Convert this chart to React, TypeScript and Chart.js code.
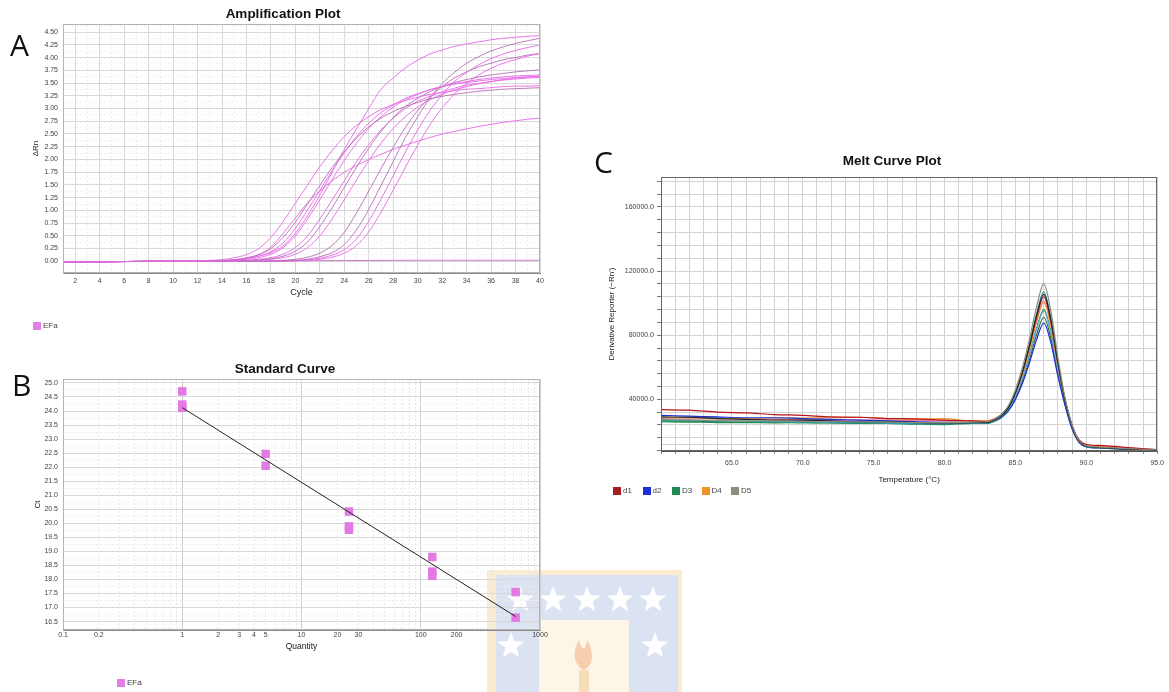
import React, { useEffect, useRef } from 'react';
import { Chart, registerables } from 'chart.js';

Chart.register(...registerables);

// ================= A: Amplification Plot =================
const baselineCycles = [1, 4, 8, 12];
const baselineDeltaRn = [-0.01, -0.01, 0.0, 0.0];
const ampCycles = [13, 14, 15, 16, 17, 18, 19, 20, 21, 22, 23, 24, 25, 26, 27, 28, 29, 30, 31, 32, 33, 34, 35, 36, 37, 38, 39, 40];
const ampE1 = [0.02, 0.03, 0.07, 0.13, 0.25, 0.47, 0.78, 1.14, 1.5, 1.86, 2.17, 2.45, 2.67, 2.84, 2.98, 3.08, 3.16, 3.22, 3.28, 3.31, 3.35, 3.38, 3.39, 3.41, 3.43, 3.44, 3.44, 3.45];
const ampE2 = [0.01, 0.02, 0.03, 0.07, 0.13, 0.25, 0.47, 0.77, 1.13, 1.49, 1.84, 2.15, 2.42, 2.64, 2.81, 2.94, 3.04, 3.12, 3.19, 3.24, 3.28, 3.31, 3.34, 3.36, 3.38, 3.39, 3.4, 3.41];
const ampE3 = [0.0, 0.01, 0.02, 0.05, 0.1, 0.19, 0.36, 0.65, 1.01, 1.39, 1.78, 2.13, 2.45, 2.71, 2.92, 3.07, 3.2, 3.29, 3.37, 3.43, 3.48, 3.51, 3.54, 3.57, 3.59, 3.61, 3.62, 3.63];
const ampE4 = [0.0, 0.01, 0.02, 0.04, 0.07, 0.14, 0.27, 0.5, 0.83, 1.21, 1.6, 1.98, 2.32, 2.61, 2.84, 3.03, 3.17, 3.28, 3.37, 3.43, 3.49, 3.53, 3.57, 3.6, 3.62, 3.64, 3.65, 3.66];
const ampM1 = [0.0, 0.0, 0.01, 0.01, 0.03, 0.05, 0.1, 0.2, 0.38, 0.68, 1.05, 1.45, 1.85, 2.22, 2.55, 2.82, 3.04, 3.2, 3.33, 3.43, 3.51, 3.57, 3.62, 3.66, 3.69, 3.72, 3.74, 3.76];
const ampM2 = [0.0, 0.0, 0.01, 0.02, 0.04, 0.07, 0.14, 0.27, 0.5, 0.83, 1.2, 1.58, 1.96, 2.29, 2.58, 2.81, 3.0, 3.14, 3.24, 3.33, 3.4, 3.46, 3.49, 3.53, 3.56, 3.58, 3.6, 3.61];
const ampM3 = [0.0, 0.0, 0.0, 0.01, 0.02, 0.04, 0.07, 0.14, 0.27, 0.5, 0.83, 1.21, 1.6, 1.98, 2.32, 2.61, 2.84, 3.03, 3.17, 3.28, 3.37, 3.43, 3.49, 3.53, 3.57, 3.6, 3.62, 3.64];
const ampL1 = [0, 0, 0, 0, 0, 0, 0.01, 0.02, 0.04, 0.09, 0.17, 0.33, 0.62, 1.02, 1.49, 1.96, 2.43, 2.84, 3.2, 3.49, 3.71, 3.89, 4.02, 4.13, 4.21, 4.28, 4.33, 4.38];
const ampL2 = [0, 0, 0, 0, 0, 0, 0.01, 0.01, 0.03, 0.06, 0.12, 0.23, 0.44, 0.79, 1.22, 1.68, 2.15, 2.58, 2.96, 3.27, 3.53, 3.71, 3.86, 3.98, 4.07, 4.14, 4.2, 4.25];
const ampL3 = [0, 0, 0, 0, 0, 0, 0, 0.01, 0.02, 0.04, 0.08, 0.16, 0.31, 0.58, 0.96, 1.4, 1.85, 2.28, 2.68, 3.01, 3.28, 3.49, 3.66, 3.79, 3.89, 3.96, 4.03, 4.08];
const ampL4 = [0, 0, 0, 0, 0, 0.01, 0.02, 0.04, 0.08, 0.16, 0.31, 0.57, 0.95, 1.38, 1.82, 2.24, 2.63, 2.96, 3.22, 3.43, 3.6, 3.72, 3.82, 3.89, 3.96, 4.0, 4.05, 4.08];
const ampK = [0.0, 0.01, 0.02, 0.05, 0.1, 0.17, 0.3, 0.55, 0.9, 1.3, 1.75, 2.2, 2.6, 3.0, 3.38, 3.6, 3.8, 3.95, 4.07, 4.15, 4.22, 4.27, 4.31, 4.35, 4.38, 4.4, 4.42, 4.43];
const ampW = [0.0, 0.01, 0.03, 0.06, 0.13, 0.28, 0.55, 0.85, 1.15, 1.38, 1.58, 1.75, 1.88, 2.0, 2.1, 2.2, 2.28, 2.36, 2.43, 2.5, 2.55, 2.6, 2.65, 2.69, 2.73, 2.76, 2.79, 2.81];
const ntcCycles = [1, 10, 20, 30, 40];
const ntcDeltaRn = [-0.01, 0.0, 0.01, 0.02, 0.02];
const ampYTickLabels = [0, 0.25, 0.5, 0.75, 1, 1.25, 1.5, 1.75, 2, 2.25, 2.5, 2.75, 3, 3.25, 3.5, 3.75, 4, 4.25, 4.5];
const ampXTickLabels = [2, 4, 6, 8, 10, 12, 14, 16, 18, 20, 22, 24, 26, 28, 30, 32, 34, 36, 38, 40];

// ================= B: Standard Curve =================
const stdQuantity = [1, 1, 1, 5, 5, 25, 25, 25, 125, 125, 125, 625, 625];
const stdCt = [24.7, 24.23, 24.11, 22.47, 22.05, 20.42, 19.89, 19.77, 18.8, 18.28, 18.13, 17.55, 16.64];
const fitQuantity = [1, 625];
const fitCt = [24.12, 16.68];
const stdXTickLabels = [0.1, 0.2, 1, 2, 3, 4, 5, 10, 20, 30, 100, 200, 1000];
const stdYTickLabels = [16.5, 17, 17.5, 18, 18.5, 19, 19.5, 20, 20.5, 21, 21.5, 22, 22.5, 23, 23.5, 24, 24.5, 25];

// ================= C: Melt Curve Plot =================
const meltTemps = [60, 62, 64, 66, 68, 70, 72, 74, 76, 78, 80, 82, 83, 83.5, 84, 84.5, 85, 85.5, 86, 86.5, 87, 87.5, 88, 88.5, 89, 89.5, 90, 91, 92.5, 95];
const meltD1 = [33500, 33200, 32000, 31500, 30500, 30000, 29000, 28800, 28000, 27800, 27000, 26500, 26000, 27400, 30100, 35100, 44100, 56800, 73200, 91300, 104000, 88600, 62300, 39600, 23500, 14500, 11800, 11200, 10200, 8600];
const meltD2 = [30000, 29500, 29000, 28500, 28500, 28000, 27500, 27000, 26500, 26000, 25500, 25500, 25500, 26600, 28700, 32700, 39900, 50000, 63000, 77400, 87500, 75200, 54300, 36300, 21500, 13000, 10300, 9600, 8900, 8000];
const meltD3 = [26000, 25800, 25500, 25500, 25300, 25500, 25200, 25000, 25000, 24500, 24200, 25000, 25000, 26200, 28700, 33300, 41500, 53100, 68000, 84500, 96000, 82000, 58000, 37400, 22500, 13500, 10800, 10000, 9300, 8300];
const meltD4 = [28500, 28500, 28000, 28000, 28500, 28200, 28500, 28800, 28000, 27500, 28000, 26500, 26500, 27800, 30400, 35100, 43700, 55700, 71200, 88400, 100500, 85800, 60900, 39400, 23800, 14200, 11200, 10500, 9600, 8400];
const meltD5 = [27500, 27200, 26800, 26500, 26500, 26200, 26000, 26000, 25800, 25500, 25500, 25800, 26000, 27500, 30500, 36000, 46000, 60000, 78000, 98000, 112000, 95000, 66000, 41000, 24000, 14000, 11000, 10200, 9400, 8300];
const meltWellBlack = [29000, 28800, 28000, 27500, 27000, 27000, 26500, 26000, 26000, 25500, 25200, 25500, 25500, 26900, 29700, 34800, 44100, 57100, 73900, 92500, 105500, 89700, 62700, 39500, 23200, 13600, 10700, 9900, 9100, 8100];
const meltWellTeal = [27000, 26800, 26500, 26200, 26000, 25800, 25500, 25500, 25000, 24800, 24800, 25000, 25000, 26400, 29300, 34500, 44100, 57400, 74600, 93600, 107000, 90800, 63100, 39300, 23000, 13400, 10500, 9700, 9000, 8100];
const meltWellSky = [28000, 29000, 28500, 27800, 27500, 27000, 27000, 26500, 26500, 26000, 26000, 26000, 26000, 27200, 29600, 34000, 42000, 53300, 67700, 83700, 95000, 81300, 58100, 38000, 22800, 13800, 10900, 10100, 9300, 8200];
const meltWellPink = [28500, 28300, 28000, 27800, 27500, 27500, 27200, 27000, 27000, 26800, 26500, 26500, 26500, 27800, 30400, 35200, 43900, 56100, 71800, 89300, 101500, 86700, 61400, 39600, 23600, 14300, 11400, 10800, 9800, 8500];
const meltWellForest = [26500, 26300, 26000, 25800, 25800, 25500, 25500, 25300, 25200, 25000, 25000, 25200, 25200, 26400, 28700, 32900, 40500, 51300, 65100, 80400, 91200, 78100, 55900, 36700, 22000, 13200, 10500, 9800, 9100, 8100];
const meltFaintTemps = [60, 71];
const meltFaintValues = [11800, 11800];
const meltLegendNames = ['d1', 'd2', 'D3', 'D4', 'D5'];
const meltLegendColors = ['#a81c24', '#1f2fd6', '#1e8a50', '#f0922a', '#8d8d7d'];
const meltXTickLabels = [65, 70, 75, 80, 85, 90, 95];
const meltYTickLabels = [40000, 80000, 120000, 160000];

const FONT = "'Liberation Sans', Arial, sans-serif";
const tickFont = { family: FONT, size: 7 };
const tickColor = '#444';
const near = (a: number, b: number) => Math.abs(a - b) < 1e-6 * Math.max(1, Math.abs(b));
const inList = (list: number[], v: any) => typeof v === 'number' && list.some((l) => near(v, l));

const framePlugin = (color: string) => ({
  id: 'frame' + color.replace('#', ''),
  afterDatasetsDraw(chart: any) {
    const { ctx, chartArea } = chart;
    const { left, top, right, bottom } = chartArea;
    ctx.save();
    ctx.strokeStyle = color;
    ctx.lineWidth = 1;
    ctx.strokeRect(Math.round(left) + 0.5, Math.round(top) + 0.5, Math.round(right - left) - 1, Math.round(bottom - top) - 1);
    ctx.restore();
  },
});

const toPoints = (xs: number[], ys: number[]) => xs.map((x, i) => ({ x, y: ys[i] }));

const baseOptions = {
  animation: false as const,
  responsive: false,
  maintainAspectRatio: false,
  events: [] as any[],
  plugins: { legend: { display: false }, tooltip: { enabled: false }, title: { display: false } },
};

export default function App() {
  const refA = useRef<HTMLCanvasElement>(null);
  const refB = useRef<HTMLCanvasElement>(null);
  const refC = useRef<HTMLCanvasElement>(null);

  useEffect(() => {
    const pink = 'rgba(232,104,232,0.9)';
    const mauve = 'rgba(182,112,182,0.9)';
    const curves = [ampE1, ampE2, ampE3, ampE4, ampM1, ampM2, ampM3, ampL1, ampL2, ampL3, ampL4, ampK, ampW];
    const ampDatasets: any[] = curves.map((vals, i) => ({
      data: toPoints(baselineCycles, baselineDeltaRn).concat(toPoints(ampCycles, vals)),
      borderColor: i % 3 === 1 ? mauve : pink,
      borderWidth: 1,
      pointRadius: 0,
      cubicInterpolationMode: 'monotone',
      fill: false,
    }));
    ampDatasets.push({
      data: toPoints(ntcCycles, ntcDeltaRn),
      borderColor: 'rgba(200,110,200,0.9)',
      borderWidth: 1,
      pointRadius: 0,
      fill: false,
    });

    const chartA = new Chart(refA.current as HTMLCanvasElement, {
      type: 'line',
      data: { datasets: ampDatasets },
      options: {
        ...baseOptions,
        layout: { padding: { left: 0, right: 30, top: 24, bottom: 0 } },
        scales: {
          x: {
            type: 'linear',
            min: 1,
            max: 40,
            afterBuildTicks: (s: any) => {
              const t: any[] = [];
              for (let c = 1; c <= 40; c++) t.push({ value: c });
              s.ticks = t;
            },
            afterFit: (s: any) => { s.height = 27; },
            ticks: {
              autoSkip: false, maxRotation: 0, minRotation: 0, padding: 4, font: tickFont, color: tickColor,
              callback: (v: any) => (inList(ampXTickLabels, v) ? String(v) : ''),
            },
            grid: {
              drawTicks: false,
              color: (c: any) => (c.tick && inList(ampXTickLabels, c.tick.value) ? '#d8d8d8' : '#ededed'),
            },
            border: { color: '#8a8a8a', dash: (c: any) => (c.tick && !inList(ampXTickLabels, c.tick.value) ? [2, 2] : []) },
            title: { display: true, text: 'Cycle', color: '#222', font: { family: FONT, size: 9 }, padding: { top: 0, bottom: 2 } },
          },
          y: {
            type: 'linear',
            min: -0.23,
            max: 4.66,
            afterBuildTicks: (s: any) => {
              const t: any[] = [];
              for (let i = 0; i <= 37; i++) t.push({ value: i * 0.125 });
              s.ticks = t;
            },
            afterFit: (s: any) => { s.width = 63; },
            ticks: {
              autoSkip: false, padding: 5, font: tickFont, color: tickColor,
              callback: (v: any) => (inList(ampYTickLabels, v) ? Number(v).toFixed(2) : ''),
            },
            grid: {
              drawTicks: false,
              color: (c: any) => (c.tick && inList(ampYTickLabels, c.tick.value) ? '#d8d8d8' : '#efefef'),
            },
            border: { color: '#b0b0b0', dash: (c: any) => (c.tick && !inList(ampYTickLabels, c.tick.value) ? [2, 2] : []) },
            title: { display: true, text: 'ΔRn', color: '#222', font: { family: FONT, size: 8 }, padding: { top: 31, bottom: 0 } },
          },
        },
      } as any,
      plugins: [framePlugin('#b4b4b4')],
    });

    // ---------- B ----------
    const logTicks: number[] = [];
    [0.1, 1, 10, 100].forEach((d) => {
      for (let m = 1; m <= 9; m++) logTicks.push(m * d);
    });
    logTicks.push(1000);
    const decades = [0.1, 1, 10, 100, 1000];

    const chartB = new Chart(refB.current as HTMLCanvasElement, {
      type: 'scatter',
      data: {
        datasets: [
          {
            type: 'line',
            data: toPoints(fitQuantity, fitCt),
            borderColor: '#222',
            borderWidth: 1,
            pointRadius: 0,
            fill: false,
          } as any,
          {
            data: toPoints(stdQuantity, stdCt),
            pointStyle: 'rect',
            pointRadius: 6,
            backgroundColor: '#e37ae3',
            borderWidth: 0,
            showLine: false,
          },
        ],
      },
      options: {
        ...baseOptions,
        layout: { padding: { left: 0, right: 30, top: 39, bottom: 0 } },
        scales: {
          x: {
            type: 'logarithmic',
            min: 0.1,
            max: 1000,
            afterBuildTicks: (s: any) => { s.ticks = logTicks.map((v) => ({ value: v })); },
            afterFit: (s: any) => { s.height = 30; },
            ticks: {
              autoSkip: false, maxRotation: 0, minRotation: 0, padding: 1, font: tickFont, color: tickColor,
              callback: (v: any) => {
                const l = stdXTickLabels.find((x) => near(v, x));
                return l === undefined ? '' : String(l);
              },
            },
            grid: {
              drawTicks: false,
              color: (c: any) => {
                if (!c.tick) return '#e8e8e8';
                if (inList(decades, c.tick.value)) return '#cfcfcf';
                return '#e6e6e6';
              },
            },
            border: { color: '#8a8a8a', dash: (c: any) => (c.tick && !inList(decades, c.tick.value) ? [2, 2] : []) },
            title: { display: true, text: 'Quantity', color: '#222', font: { family: FONT, size: 8.5 }, padding: { top: 0, bottom: 8 } },
          },
          y: {
            type: 'linear',
            min: 16.2,
            max: 25.14,
            afterBuildTicks: (s: any) => {
              const t: any[] = [];
              for (let i = 65; i <= 100; i++) t.push({ value: i * 0.25 });
              s.ticks = t;
            },
            afterFit: (s: any) => { s.width = 63; },
            ticks: {
              autoSkip: false, padding: 5, font: tickFont, color: tickColor,
              callback: (v: any) => (inList(stdYTickLabels, v) ? Number(v).toFixed(1) : ''),
            },
            grid: {
              drawTicks: false,
              color: (c: any) => (c.tick && inList(stdYTickLabels, c.tick.value) ? '#d8d8d8' : '#eeeeee'),
            },
            border: { color: '#b0b0b0', dash: (c: any) => (c.tick && !inList(stdYTickLabels, c.tick.value) ? [2, 2] : []) },
            title: { display: true, text: 'Ct', color: '#222', font: { family: FONT, size: 8 }, padding: { top: 33, bottom: 0 } },
          },
        },
      } as any,
      plugins: [framePlugin('#b4b4b4')],
    });

    // ---------- C ----------
    const meltSeries = [
      { vals: meltD5, color: '#8d8d7d' },
      { vals: meltWellBlack, color: '#222222' },
      { vals: meltWellTeal, color: '#2aa0b0' },
      { vals: meltD2, color: '#1f2fd6' },
      { vals: meltD1, color: '#b5121b' },
      { vals: meltD4, color: '#f0922a' },
      { vals: meltWellPink, color: '#e87ea0' },
      { vals: meltWellSky, color: '#6fa8dc' },
      { vals: meltD3, color: '#1e8a50' },
      { vals: meltWellForest, color: '#2e6b3a' },
    ];
    const meltDatasets: any[] = meltSeries.map((s) => ({
      data: toPoints(meltTemps, s.vals),
      borderColor: s.color,
      borderWidth: 1.2,
      pointRadius: 0,
      cubicInterpolationMode: 'monotone',
      fill: false,
    }));
    meltDatasets.push({
      data: toPoints(meltFaintTemps, meltFaintValues),
      borderColor: '#cfcfcf',
      borderWidth: 1,
      pointRadius: 0,
      fill: false,
    });

    const chartC = new Chart(refC.current as HTMLCanvasElement, {
      type: 'line',
      data: { datasets: meltDatasets },
      options: {
        ...baseOptions,
        layout: { padding: { left: 0, right: 8, top: 27, bottom: 0 } },
        scales: {
          x: {
            type: 'linear',
            min: 60,
            max: 95,
            afterBuildTicks: (s: any) => {
              const t: any[] = [];
              for (let v = 60; v <= 95; v++) t.push({ value: v });
              s.ticks = t;
            },
            afterFit: (s: any) => { s.height = 36; },
            ticks: {
              autoSkip: false, maxRotation: 0, minRotation: 0, padding: 5, font: tickFont, color: tickColor,
              callback: (v: any) => (inList(meltXTickLabels, v) ? Number(v).toFixed(1) : ''),
            },
            grid: { drawTicks: true, tickLength: 3, tickColor: '#888', color: '#d2d2d2' },
            border: { color: '#555' },
            title: { display: true, text: 'Temperature (°C)', color: '#222', font: { family: FONT, size: 8 }, padding: { top: 0, bottom: 2 } },
          },
          y: {
            type: 'linear',
            min: 7740,
            max: 178720,
            afterBuildTicks: (s: any) => {
              const t: any[] = [];
              for (let i = 1; i <= 22; i++) t.push({ value: i * 8000 });
              s.ticks = t;
            },
            afterFit: (s: any) => { s.width = 76; },
            ticks: {
              autoSkip: false, padding: 3, font: tickFont, color: tickColor,
              callback: (v: any) => (inList(meltYTickLabels, v) ? Number(v).toFixed(1) : ''),
            },
            grid: { drawTicks: true, tickLength: 4, tickColor: '#777', color: '#d2d2d2' },
            border: { color: '#555' },
            title: { display: true, text: "Derivative Reporter (−Rn')", color: '#222', font: { family: FONT, size: 8 }, padding: { top: 22, bottom: 0 } },
          },
        },
      } as any,
      plugins: [framePlugin('#666666')],
    });

    return () => {
      chartA.destroy();
      chartB.destroy();
      chartC.destroy();
    };
  }, []);

  const abs = (l: number, t: number, extra: any = {}) => ({ position: 'absolute' as const, left: l, top: t, ...extra });
  const letter = { fontFamily: "'Open Sans', sans-serif", fontSize: 30, lineHeight: '30px', color: '#111', fontWeight: 400 };
  const title = { fontFamily: FONT, fontSize: 13.5, fontWeight: 700 as const, lineHeight: '16px', color: '#111', width: 300, textAlign: 'center' as const };
  const legendText = { fontFamily: FONT, fontSize: 8, lineHeight: '12px', color: '#444' };
  const sq = (color: string) => ({ width: 8, height: 8, background: color });

  const starPath = (cx: number, cy: number, r: number) => {
    const pts: string[] = [];
    for (let i = 0; i < 10; i++) {
      const rr = i % 2 === 0 ? r : r * 0.42;
      const a = -Math.PI / 2 + (i * Math.PI) / 5;
      pts.push(`${(cx + rr * Math.cos(a)).toFixed(1)},${(cy + rr * Math.sin(a)).toFixed(1)}`);
    }
    return pts.join(' ');
  };

  return (
    <div style={{ position: 'fixed', left: 0, top: 0, width: 1169, height: 692, overflow: 'hidden', background: '#fff' }}>
      <svg width={195} height={122} style={abs(487, 570, { opacity: 0.6, pointerEvents: 'none' })}>
        <rect x={0} y={0} width={195} height={122} fill="#fbe0b0" />
        <rect x={9} y={5} width={182} height={117} fill="#c4d0e8" />
        <rect x={52} y={50} width={90} height={72} fill="#fdf0d6" />
        <path d="M92 70 C84 84 88 96 97 100 C106 96 108 84 100 70 C99 80 95 82 92 70 Z" fill="#f5b07a" />
        <rect x={92} y={100} width={10} height={22} fill="#f3c98a" />
        {[33, 66, 100, 133, 166].map((cx) => (
          <polygon key={cx} points={starPath(cx, 30, 14)} fill="#ffffff" />
        ))}
        <polygon points={starPath(24, 76, 14)} fill="#ffffff" />
        <polygon points={starPath(168, 76, 14)} fill="#ffffff" />
      </svg>

      <canvas ref={refA} width={570} height={300} style={abs(0, 0)} />
      <canvas ref={refB} width={570} height={320} style={abs(0, 340)} />
      <canvas ref={refC} width={584} height={337} style={abs(585, 150)} />

      <div style={abs(10, 30, letter)}>A</div>
      <div style={abs(12, 370, letter)}>B</div>
      <div style={abs(594, 147, letter)}>C</div>

      <div style={abs(283 - 150, 6, title)}>Amplification Plot</div>
      <div style={abs(285 - 150, 361, title)}>Standard Curve</div>
      <div style={abs(892 - 150, 153, title)}>Melt Curve Plot</div>

      <div style={abs(33, 322, sq('#e57ee5'))} />
      <div style={abs(43, 320, legendText)}>EFa</div>
      <div style={abs(117, 679, sq('#e57ee5'))} />
      <div style={abs(127, 677, legendText)}>EFa</div>

      {meltLegendNames.map((n, i) => (
        <React.Fragment key={n}>
          <div style={abs(613 + i * 29.5, 487, sq(meltLegendColors[i]))} />
          <div style={abs(623 + i * 29.5, 485, legendText)}>{n}</div>
        </React.Fragment>
      ))}
    </div>
  );
}
